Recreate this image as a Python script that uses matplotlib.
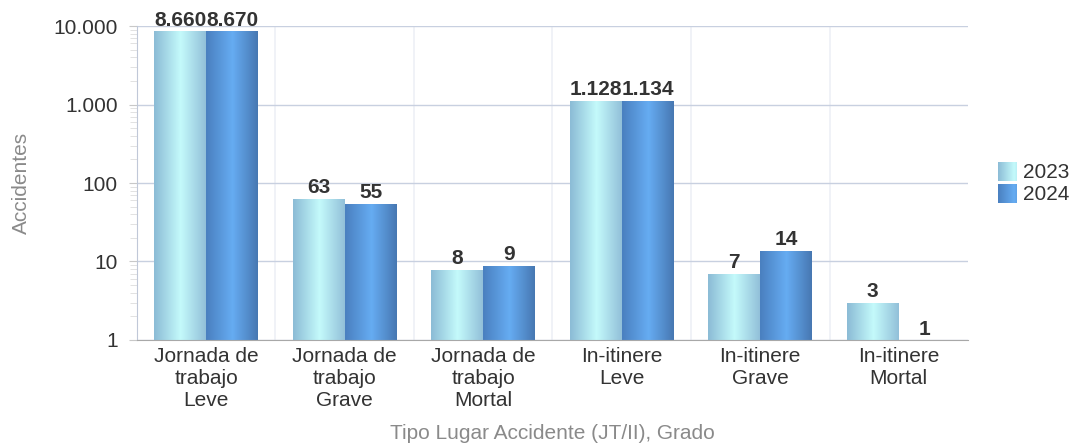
import matplotlib
matplotlib.use('Agg')
import matplotlib.pyplot as plt
from matplotlib.colors import LinearSegmentedColormap
from matplotlib.ticker import FixedLocator, LogLocator, NullFormatter
import numpy as np

categories = ['Jornada de\ntrabajo\nLeve', 'Jornada de\ntrabajo\nGrave', 'Jornada de\ntrabajo\nMortal',
              'In-itinere\nLeve', 'In-itinere\nGrave', 'In-itinere\nMortal']
years = ['2023', '2024']
values_2023 = [8660, 63, 8, 1128, 7, 3]
values_2024 = [8670, 55, 9, 1134, 14, 1]
y_ticks = [1, 10, 100, 1000, 10000]
y_tick_labels = ['1', '10', '100', '1.000', '10.000']

plt.rcParams['font.family'] = ['Liberation Sans', 'DejaVu Sans']

cmap_2023 = LinearSegmentedColormap.from_list('c23', ['#8cbcd6', '#c4fafb', '#90bed8'])
cmap_2024 = LinearSegmentedColormap.from_list('c24', ['#4a80c0', '#66acf2', '#4676b0'])
grad = np.linspace(0, 1, 256).reshape(1, -1)


def fmt(v):
    return f'{v:,}'.replace(',', '.')


fig = plt.figure(figsize=(10.75, 4.47), dpi=100)
ax = fig.add_axes([0.1274, 0.2394, 0.7731, 0.7024])

x = np.arange(len(categories))
w = 0.377

for vals, off, cmap in [(values_2023, -w / 2, cmap_2023), (values_2024, w / 2, cmap_2024)]:
    bars = ax.bar(x + off, vals, width=w, bottom=1, color='none', zorder=2)
    for b, v in zip(bars, vals):
        x0 = b.get_x()
        ax.imshow(grad, extent=(x0, x0 + w, 1, max(v, 1.0001)), aspect='auto',
                  cmap=cmap, zorder=2, interpolation='bilinear')
        ax.text(x0 + w / 2, v * 1.04, fmt(v), ha='center', va='bottom', fontsize=15,
                fontweight='bold', color='#333333', clip_on=False, zorder=4)

ax.set_yscale('log')
ax.set_ylim(1, 10000)
ax.set_xlim(-0.5, len(categories) - 0.5)
ax.set_aspect('auto')

ax.yaxis.set_major_locator(FixedLocator(y_ticks))
ax.set_yticklabels(y_tick_labels)
ax.yaxis.set_minor_locator(LogLocator(base=10, subs=np.arange(2, 10)))
ax.yaxis.set_minor_formatter(NullFormatter())
ax.set_xticks(x)
ax.set_xticklabels(categories)

ax.tick_params(axis='y', which='major', length=6, color='#c8c8c8', labelsize=15,
               labelcolor='#333333', pad=8)
ax.tick_params(axis='y', which='minor', length=5, color='#dddddd')
ax.tick_params(axis='x', length=0, labelsize=15, labelcolor='#333333', pad=5)

ax.grid(axis='y', which='major', color='#c8d0e0', linewidth=1, zorder=0)
for b in np.arange(0.5, len(categories) - 0.5, 1):
    ax.axvline(b, color='#eef0f6', linewidth=1.2, zorder=0)

for s in ['top', 'right']:
    ax.spines[s].set_visible(False)
ax.spines['left'].set_color('#c0c8d8')
ax.spines['bottom'].set_color('#a8a8a8')
ax.spines['left'].set_zorder(3)
ax.spines['bottom'].set_zorder(3)

ax.set_ylabel('Accidentes', fontsize=15, color='#8a8a8a')
ax.yaxis.set_label_coords(-0.128, 0.5)
ax.set_xlabel('Tipo Lugar Accidente (JT/II), Grado', fontsize=15, color='#8a8a8a', labelpad=10)

# legend drawn by hand so the swatches keep the gradient
for i, (yr, cmap) in enumerate(zip(years, [cmap_2023, cmap_2024])):
    top = 162 + i * 22
    lax = fig.add_axes([998 / 1075, 1 - (top + 19) / 447, 19 / 1075, 19 / 447])
    lax.imshow(grad[:, :150], aspect='auto', cmap=cmap, vmin=0, vmax=1)
    lax.axis('off')
    fig.text(1023 / 1075, 1 - (top + 10) / 447, yr, fontsize=15, color='#333333', va='center')

fig.savefig('out.png', dpi=100)
